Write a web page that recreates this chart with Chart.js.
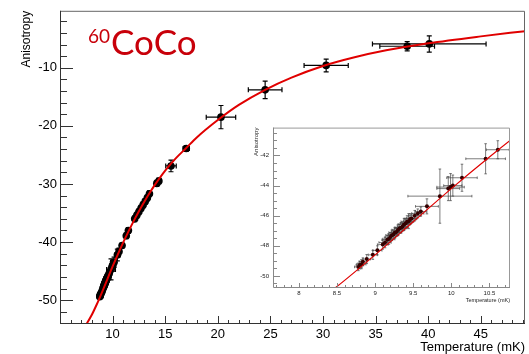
<!DOCTYPE html>
<html><head><meta charset="utf-8">
<script src="https://cdn.jsdelivr.net/npm/chart.js@4/dist/chart.umd.min.js"></script>
<style>
html,body{margin:0;padding:0;background:#fff;}
#wrap{position:relative;width:529px;height:354px;overflow:hidden;background:#fff;}
#main{position:absolute;left:0;top:0;}
#inset{position:absolute;left:252px;top:120px;background:#fff;}
#label{position:absolute;left:88px;top:21px;color:#c8000a;font-family:Lato,'Open Sans',sans-serif;font-size:35px;line-height:40px;white-space:nowrap;}
#label sup{font-size:19px;vertical-align:0;position:relative;top:-12px;margin-right:1px;}
</style></head>
<body>
<div id="wrap">
<canvas id="main" width="529" height="354"></canvas>
<div id="label"><sup>60</sup>CoCo</div>
<canvas id="inset" width="262" height="186"></canvas>
</div>
<script>
// ---- data ----
const temperature = [8.78,8.80,8.82,8.84,8.89,8.97,9.03,9.10,9.13,9.16,9.18,9.20,9.22,9.24,9.26,9.28,9.30,9.32,9.34,9.36,9.38,9.40,9.42,9.44,9.46,9.48,9.52,9.56,9.60,9.68,9.85,9.96,9.99,10.02,10.14,10.45,10.61,
  10.9,11.3,11.5,12.1,12.3,12.5,12.7,12.9,13.1,13.3,13.5,14.2,14.4,15.55,17.0,20.3,24.5,30.3,38.0,40.1];
const anisotropy = [-49.40,-49.28,-49.22,-49.05,-48.88,-48.60,-48.30,-47.92,-47.78,-47.60,-47.55,-47.42,-47.30,-47.25,-47.12,-47.08,-46.95,-46.85,-46.80,-46.72,-46.58,-46.52,-46.40,-46.36,-46.22,-46.18,-46.00,-45.85,-45.72,-45.38,-44.70,-44.20,-44.10,-44.00,-43.48,-42.22,-41.62,
  -40.6,-38.9,-38.0,-36.0,-35.4,-34.8,-34.2,-33.6,-33.0,-32.4,-31.7,-29.9,-29.5,-26.9,-23.9,-18.5,-13.8,-9.6,-6.3,-5.9];
const temperatureErr = [0.05,0.05,0.06,0.05,0.05,0.06,0.06,0.07,0.08,0.07,0.08,0.07,0.08,0.07,0.08,0.07,0.08,0.07,0.08,0.07,0.08,0.07,0.08,0.07,0.08,0.07,0.08,0.08,0.07,0.15,0.42,0.15,0.18,0.12,0.20,0.26,0.15,
  0.10,0.12,0.12,0.12,0.12,0.12,0.12,0.12,0.12,0.15,0.15,0.20,0.20,0.50,0.30,1.4,1.6,2.1,2.6,5.4];
const anisotropyErr = [0.25,0.25,0.30,0.25,0.30,0.30,0.30,0.30,0.35,0.30,0.35,0.30,0.35,0.30,0.35,0.30,0.35,0.30,0.35,0.30,0.40,0.35,0.40,0.50,0.35,0.30,0.35,0.30,0.30,0.50,1.80,0.80,0.90,0.70,0.90,1.00,0.60,
  0.4,0.5,0.5,0.5,0.5,0.5,0.5,0.5,0.5,0.5,0.5,0.5,0.5,1.0,0.5,2.0,1.5,1.1,0.8,1.4];
const fitTemperature = [7.45,8.0,8.5,9.0,9.5,10.0,10.5,11.0,11.5,12.0,12.5,13.0,13.5,14.0,15.0,16.0,17.0,18.0,20.0,22.0,24.5,27.0,30.0,33.0,36.0,40.0,45.0,49.2];
const fitAnisotropy  = [-54.3,-52.6,-50.7,-48.6,-46.4,-44.2,-42.1,-40.1,-38.2,-36.4,-34.7,-33.1,-31.6,-30.2,-27.7,-25.6,-23.8,-22.0,-19.0,-16.4,-13.8,-11.7,-9.7,-8.2,-7.0,-5.8,-4.6,-3.7];
const mainXTicks = [10,15,20,25,30,35,40,45];
const mainYTicks = [-50,-40,-30,-20,-10];
const insetXTicks = [8,8.5,9,9.5,10,10.5];
const insetYTicks = [-50,-48,-46,-44,-42];

const points = temperature.map((t,i)=>({x:t,y:anisotropy[i],xErr:temperatureErr[i],yErr:anisotropyErr[i]}));
const fitPoints = fitTemperature.map((t,i)=>({x:t,y:fitAnisotropy[i]}));
const insetPoints = points.filter(p=>p.x<=10.7);

const FONT = "'Liberation Sans', Arial, sans-serif";

const errorBars = {
  id:'errorBars',
  beforeDatasetsDraw(chart, args, o){
    const ctx = chart.ctx, xs = chart.scales.x, ys = chart.scales.y, a = chart.chartArea;
    const ds = chart.data.datasets[o.dataset];
    ctx.save();
    ctx.beginPath(); ctx.rect(a.left,a.top,a.right-a.left,a.bottom-a.top); ctx.clip();
    ctx.strokeStyle = o.color; ctx.lineWidth = o.width;
    ctx.beginPath();
    ds.data.forEach(p=>{
      const px = xs.getPixelForValue(p.x), py = ys.getPixelForValue(p.y);
      const x1 = xs.getPixelForValue(p.x-p.xErr), x2 = xs.getPixelForValue(p.x+p.xErr);
      const y1 = ys.getPixelForValue(p.y-p.yErr), y2 = ys.getPixelForValue(p.y+p.yErr);
      ctx.moveTo(x1,py); ctx.lineTo(x2,py);
      ctx.moveTo(px,y1); ctx.lineTo(px,y2);
      const c=o.cap;
      ctx.moveTo(x1,py-c); ctx.lineTo(x1,py+c);
      ctx.moveTo(x2,py-c); ctx.lineTo(x2,py+c);
      ctx.moveTo(px-c,y1); ctx.lineTo(px+c,y1);
      ctx.moveTo(px-c,y2); ctx.lineTo(px+c,y2);
    });
    ctx.stroke();
    ctx.restore();
  }
};

const frameTicks = {
  id:'frameTicks',
  afterDraw(chart, args, o){
    const ctx = chart.ctx, xs = chart.scales.x, ys = chart.scales.y, a = chart.chartArea;
    ctx.save();
    ctx.lineWidth = o.width;
    ctx.strokeStyle = o.frameColor;
    ctx.beginPath();
    ctx.moveTo(a.left,a.top+0.5); ctx.lineTo(a.right-0.5,a.top+0.5); ctx.lineTo(a.right-0.5,a.bottom);
    ctx.stroke();
    ctx.strokeStyle = o.axisColor;
    ctx.beginPath();
    ctx.moveTo(a.left+0.5,a.top); ctx.lineTo(a.left+0.5,a.bottom-0.5); ctx.lineTo(a.right,a.bottom-0.5);
    const xStep = o.xMinor;
    for(let v=Math.ceil(xs.min/xStep)*xStep; v<=xs.max+1e-9; v+=xStep){
      const vv = Math.round(v*1000)/1000;
      const major = o.xMajor.some(m=>Math.abs(m-vv)<1e-6);
      const px = Math.round(xs.getPixelForValue(vv))+0.5;
      ctx.moveTo(px,a.bottom); ctx.lineTo(px,a.bottom-(major?o.xMajorLen:o.xMinorLen));
    }
    const yStep = o.yMinor;
    for(let v=Math.ceil(ys.min/yStep)*yStep; v<=ys.max+1e-9; v+=yStep){
      const vv = Math.round(v*1000)/1000;
      const major = o.yMajor.some(m=>Math.abs(m-vv)<1e-6);
      const py = Math.round(ys.getPixelForValue(vv))+0.5;
      ctx.moveTo(a.left,py); ctx.lineTo(a.left+(major?o.yMajorLen:o.yMinorLen),py);
    }
    ctx.stroke();
    ctx.restore();
  }
};

function makeAxis(kind, cfg){
  return {
    type:'linear', min:cfg.min, max:cfg.max,
    grid:{display:false, drawTicks:false}, border:{display:false},
    afterBuildTicks: s => { s.ticks = cfg.ticks.map(v=>({value:v})); },
    ticks:{font:{family:FONT,size:cfg.fontSize}, color:cfg.color, padding:cfg.pad, maxRotation:0, autoSkip:false, callback:v=>String(v)},
    title:{display:true, text:cfg.title, align:'end', color:cfg.color, font:{family:FONT,size:cfg.titleSize,lineHeight:1}, padding:cfg.titlePad},
    afterFit: s => { if(kind==='x') s.height = cfg.size; else s.width = cfg.size; }
  };
}

Chart.defaults.animation = false;

new Chart(document.getElementById('main'), {
  type:'scatter',
  data:{datasets:[
    {type:'line', data:fitPoints, borderColor:'#e00000', borderWidth:2, pointRadius:0, tension:0.4, cubicInterpolationMode:'monotone', fill:false, order:0},
    {data:points, backgroundColor:'#000', borderColor:'#000', pointRadius:3.8, pointBorderWidth:0, order:1}
  ]},
  options:{
    responsive:false, animation:false,
    layout:{padding:{left:0,right:1,top:8,bottom:0}},
    plugins:{legend:{display:false}, tooltip:{enabled:false},
      errorBars:{dataset:1, color:'#000', width:1.2, cap:2.5},
      frameTicks:{width:1, frameColor:'#666', axisColor:'#333', xMinor:1, xMajor:mainXTicks, xMajorLen:8, xMinorLen:4, yMinor:2, yMajor:mainYTicks, yMajorLen:13, yMinorLen:7}
    },
    scales:{
      x: makeAxis('x',{min:5,max:49.2,ticks:mainXTicks,fontSize:13,color:'#000',pad:3,title:'Temperature (mK)',titleSize:13,titlePad:{top:0,bottom:0},size:30}),
      y: makeAxis('y',{min:-54.1,max:-0.2,ticks:mainYTicks,fontSize:13,color:'#000',pad:3,title:'Anisotropy',titleSize:12,titlePad:{top:21,bottom:0},size:60})
    }
  },
  plugins:[errorBars, frameTicks]
});

new Chart(document.getElementById('inset'), {
  type:'scatter',
  data:{datasets:[
    {type:'line', data:fitPoints, borderColor:'#e00000', borderWidth:1.2, pointRadius:0, tension:0.4, cubicInterpolationMode:'monotone', fill:false, order:0},
    {data:insetPoints, backgroundColor:'#300', borderColor:'#300', pointRadius:2, pointBorderWidth:0, order:1}
  ]},
  options:{
    responsive:false, animation:false,
    layout:{padding:{left:0,right:3,top:7,bottom:0}},
    plugins:{legend:{display:false}, tooltip:{enabled:false},
      errorBars:{dataset:1, color:'#444', width:0.7, cap:1.3},
      frameTicks:{width:1, frameColor:'#999', axisColor:'#888', xMinor:0.1, xMajor:insetXTicks, xMajorLen:5, xMinorLen:3, yMinor:0.5, yMajor:insetYTicks, yMajorLen:7, yMinorLen:4}
    },
    scales:{
      x: makeAxis('x',{min:7.66,max:10.77,ticks:insetXTicks,fontSize:6,color:'#222',pad:2,title:'Temperature (mK)',titleSize:5.5,titlePad:{top:0,bottom:3},size:18}),
      y: makeAxis('y',{min:-50.8,max:-40.15,ticks:insetYTicks,fontSize:6,color:'#222',pad:4,title:'Anisotropy',titleSize:6,titlePad:{top:1,bottom:0},size:21})
    }
  },
  plugins:[errorBars, frameTicks]
});
</script>
</body></html>
